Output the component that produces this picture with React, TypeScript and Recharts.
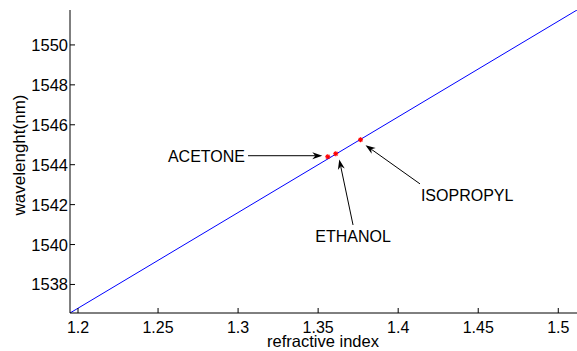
import React from 'react';
import {
  ComposedChart,
  Line,
  Scatter,
  XAxis,
  YAxis,
  ReferenceLine,
  ReferenceDot,
} from 'recharts';

// fitted line, drawn corner to corner of the axes box
const lineIndex = [1.195, 1.5117];
const lineWavelength = [1536.57, 1551.75];

// measured solvents
const solvents = ['ACETONE', 'ETHANOL', 'ISOPROPYL'];
const solventIndex = [1.356, 1.361, 1.3765];
const solventWavelength = [1544.4, 1544.55, 1545.25];

const xTicks = [1.2, 1.25, 1.3, 1.35, 1.4, 1.45, 1.5];
const yTicks = [1538, 1540, 1542, 1544, 1546, 1548, 1550];
const xDomain = [1.195, 1.5117];
const yDomain = [1536.57, 1551.75];

// annotation text anchor and arrow (tail -> head), in data units
const notes = [
  { text: 'ACETONE', tx: 1.3043, ty: 1544.45, anchor: 'end', x1: 1.3062, y1: 1544.45, x2: 1.3526, y2: 1544.45 },
  { text: 'ETHANOL', tx: 1.3718, ty: 1540.45, anchor: 'middle', x1: 1.3718, y1: 1540.98, x2: 1.3632, y2: 1544.26 },
  { text: 'ISOPROPYL', tx: 1.4142, ty: 1542.5, anchor: 'start', x1: 1.4136, y1: 1543.04, x2: 1.3796, y2: 1544.98 },
];

const lineData = lineIndex.map((x, i) => ({ x, y: lineWavelength[i] }));
const pointData = solvents.map((name, i) => ({ name, x: solventIndex[i], y: solventWavelength[i] }));

const FONT = 'Liberation Sans, Arial, sans-serif';

const BottomTick = (props: any) => {
  const { x, y, payload } = props;
  return (
    <g>
      <line x1={x} y1={y} x2={x} y2={y - 5} stroke="#000" />
      <text x={x} y={y + 19.5} textAnchor="middle" fontSize={16} fontFamily={FONT} fill="#000">
        {String(payload.value)}
      </text>
    </g>
  );
};

const TopTick = (props: any) => {
  const { x, y } = props;
  return <line x1={x} y1={y} x2={x} y2={y + 5} stroke="#000" />;
};

const LeftTick = (props: any) => {
  const { x, y, payload } = props;
  return (
    <g>
      <line x1={x} y1={y} x2={x + 5} y2={y} stroke="#000" />
      <text x={x - 2} y={y + 6} textAnchor="end" fontSize={16.5} fontFamily={FONT} fill="#000">
        {String(payload.value)}
      </text>
    </g>
  );
};

const RightTick = (props: any) => {
  const { x, y } = props;
  return <line x1={x} y1={y} x2={x - 5} y2={y} stroke="#000" />;
};

const Arrow = (props: any) => {
  const { x1, y1, x2, y2 } = props;
  const a = Math.atan2(y2 - y1, x2 - x1);
  const len = 10;
  const w = 3.5;
  const bx = x2 - len * Math.cos(a);
  const by = y2 - len * Math.sin(a);
  const nx = -Math.sin(a) * w;
  const ny = Math.cos(a) * w;
  const mx = x2 - len * 0.7 * Math.cos(a);
  const my = y2 - len * 0.7 * Math.sin(a);
  return (
    <g>
      <line x1={x1} y1={y1} x2={mx} y2={my} stroke="#000" strokeWidth={1} />
      <polygon points={`${x2},${y2} ${bx + nx},${by + ny} ${mx},${my} ${bx - nx},${by - ny}`} fill="#000" />
    </g>
  );
};

const Marker = (props: any) => {
  const { cx, cy } = props;
  return (
    <g stroke="#ff0000" strokeWidth={1.2}>
      <line x1={cx - 2.5} y1={cy} x2={cx + 2.5} y2={cy} />
      <line x1={cx} y1={cy - 2.5} x2={cx} y2={cy + 2.5} />
      <line x1={cx - 1.8} y1={cy - 1.8} x2={cx + 1.8} y2={cy + 1.8} />
      <line x1={cx - 1.8} y1={cy + 1.8} x2={cx + 1.8} y2={cy - 1.8} />
    </g>
  );
};

export default function App() {
  return (
    <div style={{ position: 'absolute', left: 0, top: 0, background: '#fff' }}>
      <ComposedChart width={577} height={351} margin={{ top: 10, right: 0, bottom: 0, left: 0 }}>
        <XAxis
          dataKey="x"
          type="number"
          domain={xDomain}
          ticks={xTicks}
          allowDataOverflow
          height={38}
          tickSize={0}
          tickMargin={0}
          tickLine={false}
          tick={<BottomTick />}
          axisLine={{ stroke: '#000' }}
        />
        <XAxis
          xAxisId="top"
          orientation="top"
          dataKey="x"
          type="number"
          domain={xDomain}
          ticks={xTicks}
          allowDataOverflow
          height={0}
          tickSize={0}
          tickMargin={0}
          tickLine={false}
          tick={<TopTick />}
          axisLine={{ stroke: '#000' }}
        />
        <YAxis
          dataKey="y"
          type="number"
          domain={yDomain}
          ticks={yTicks}
          allowDataOverflow
          width={70}
          tickSize={0}
          tickMargin={0}
          tickLine={false}
          tick={<LeftTick />}
          axisLine={{ stroke: '#000' }}
        />
        <YAxis
          yAxisId="right"
          orientation="right"
          dataKey="y"
          type="number"
          domain={yDomain}
          ticks={yTicks}
          allowDataOverflow
          width={0}
          tickSize={0}
          tickMargin={0}
          tickLine={false}
          tick={<RightTick />}
          axisLine={{ stroke: '#000' }}
        />
        <Line
          data={lineData}
          dataKey="y"
          type="linear"
          stroke="#0000ff"
          strokeWidth={1}
          dot={false}
          isAnimationActive={false}
        />
        <Scatter data={pointData} dataKey="y" shape={<Marker />} isAnimationActive={false} />
        {notes.map((n) => (
          <ReferenceLine
            key={n.text + '-arrow'}
            segment={[{ x: n.x1, y: n.y1 }, { x: n.x2, y: n.y2 }]}
            shape={(p: any) => <Arrow {...p} />}
          />
        ))}
        {notes.map((n) => (
          <ReferenceDot
            key={n.text}
            x={n.tx}
            y={n.ty}
            r={0}
            shape={(p: any) => (
              <text
                x={p.cx}
                y={p.cy + 6}
                textAnchor={n.anchor as any}
                fontSize={16}
                fontFamily={FONT}
                fill="#000"
              >
                {n.text}
              </text>
            )}
          />
        ))}
        <text x={323} y={347} textAnchor="middle" fontSize={16.5} fontFamily={FONT} fill="#000">
          refractive index
        </text>
        <text
          x={25}
          y={155}
          transform="rotate(-90 25 155)"
          textAnchor="middle"
          fontSize={17}
          fontFamily={FONT}
          fill="#000"
        >
          wavelenght(nm)
        </text>
      </ComposedChart>
    </div>
  );
}
